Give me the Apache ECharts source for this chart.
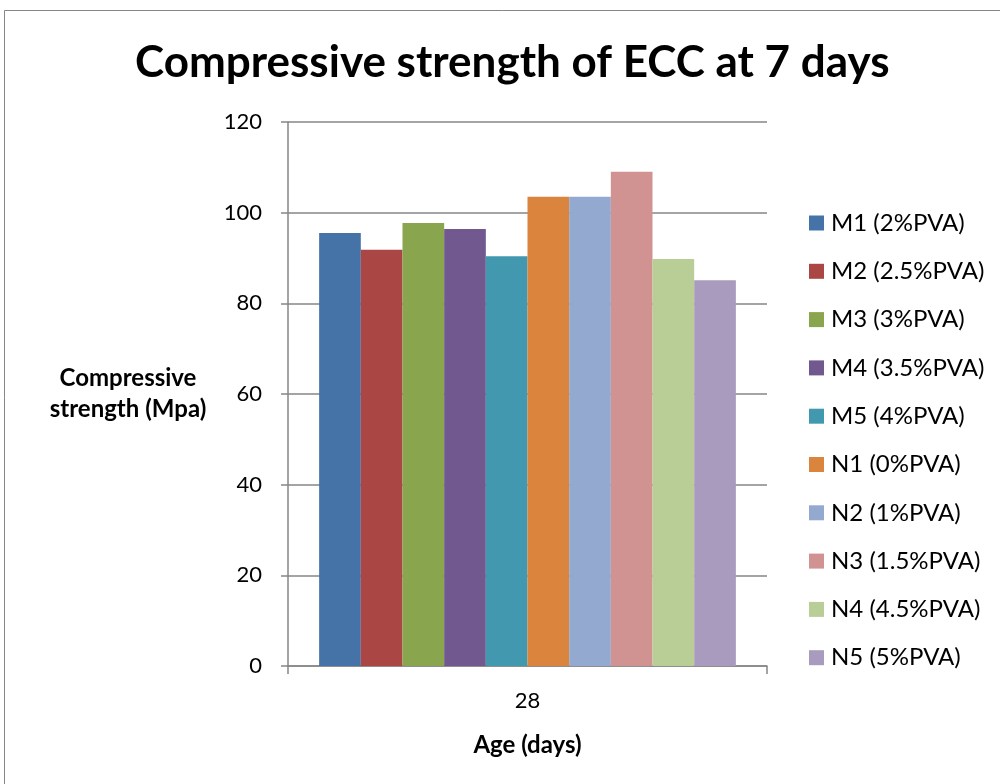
<!DOCTYPE html>
<html><head><meta charset="utf-8">
<script src="https://cdn.jsdelivr.net/npm/echarts@6/dist/echarts.min.js"></script>
<style>html,body{margin:0;padding:0;background:#fff}#c{width:1000px;height:784px}</style>
</head><body><div id="c"></div>
<script>
const categories = ['28'];
const seriesNames = ['M1 (2%PVA)','M2 (2.5%PVA)','M3 (3%PVA)','M4 (3.5%PVA)','M5 (4%PVA)','N1 (0%PVA)','N2 (1%PVA)','N3 (1.5%PVA)','N4 (4.5%PVA)','N5 (5%PVA)'];
const seriesValues = [95.5, 91.8, 97.7, 96.4, 90.4, 103.5, 103.5, 109.0, 89.8, 85.1];
const colors = ['#4572A7','#AA4643','#89A54E','#71588F','#4198AF','#DB843D','#93A9CF','#D19392','#B9CD96','#A99BBD'];
const yTicks = [0, 20, 40, 60, 80, 100, 120];
const FONT = 'Lato, "Liberation Sans", sans-serif';

const chart = echarts.init(document.getElementById('c'), null, {renderer: 'canvas'});
chart.setOption({
  animation: false,
  backgroundColor: '#fff',
  textStyle: {fontFamily: FONT},
  title: {
    text: 'Compressive strength of ECC at 7 days',
    left: 130, top: 36,
    textStyle: {fontFamily: FONT, fontSize: 44, fontWeight: 'bold', color: '#000'}
  },
  graphic: [{
    type: 'rect', shape: {x: 4.5, y: 10.5, width: 1000, height: 800},
    style: {fill: 'none', stroke: '#868686', lineWidth: 1}, silent: true
  }],
  legend: {
    orient: 'vertical', left: 809, top: 211, itemGap: 24.3, padding: 0,
    itemWidth: 15, itemHeight: 15, icon: 'rect',
    textStyle: {fontFamily: FONT, fontSize: 24, color: '#000', padding: [0,0,0,2]},
    data: seriesNames
  },
  grid: {left: 288, right: 233, top: 122, bottom: 118, containLabel: false},
  xAxis: {
    type: 'category', data: categories,
    name: 'Age (days)', nameLocation: 'middle', nameGap: 67,
    nameTextStyle: {fontFamily: FONT, fontSize: 24, fontWeight: 'bold', color: '#000'},
    axisLine: {lineStyle: {color: '#868686', width: 1.5}},
    axisTick: {show: true, alignWithLabel: false, length: 8, lineStyle: {color: '#868686', width: 1.5}},
    axisLabel: {fontFamily: FONT, fontSize: 22, color: '#000', margin: 24}
  },
  yAxis: {
    type: 'value', min: yTicks[0], max: yTicks[yTicks.length-1], interval: 20,
    name: 'Compressive\nstrength (Mpa)', nameLocation: 'middle', nameGap: 160,
    nameRotate: 0,
    nameTextStyle: {fontFamily: FONT, fontSize: 24, fontWeight: 'bold', color: '#000', align: 'center', lineHeight: 31, padding: [6,0,0,0]},
    axisLine: {show: true, lineStyle: {color: '#868686', width: 1.5}},
    axisTick: {show: true, length: 7, lineStyle: {color: '#868686', width: 1.5}},
    axisLabel: {fontFamily: FONT, fontSize: 22, color: '#000', margin: 26},
    splitLine: {show: true, lineStyle: {color: '#868686', width: 1.5}}
  },
  series: seriesNames.map((n, i) => ({
    name: n, type: 'bar', data: [seriesValues[i]],
    itemStyle: {color: colors[i]},
    barGap: '0%', barCategoryGap: '13%'
  }))
});
</script></body></html>
